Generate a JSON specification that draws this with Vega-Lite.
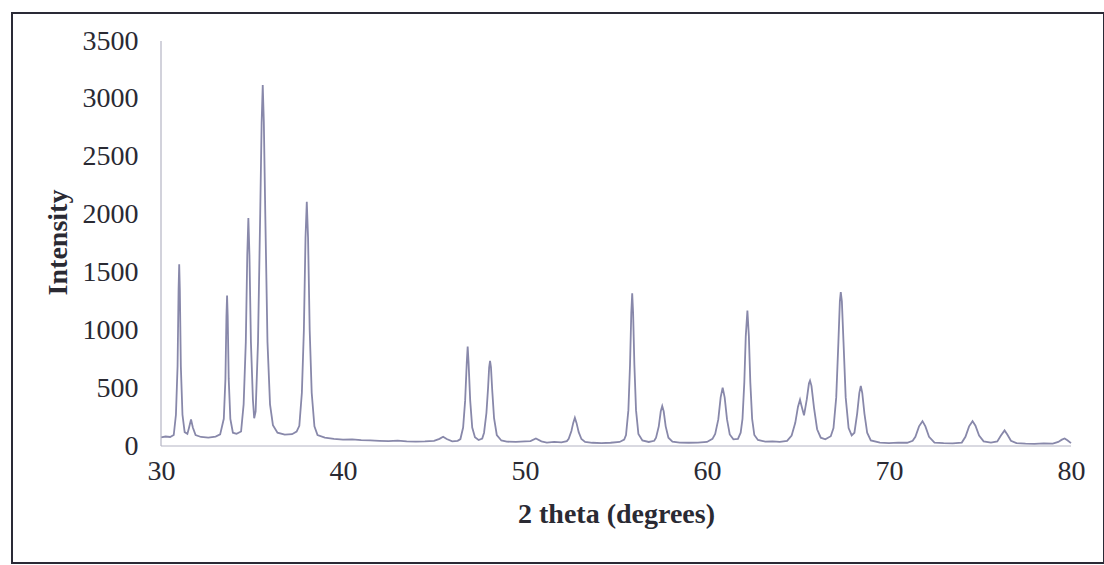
{
"$schema":"https://vega.github.io/schema/vega-lite/v6.json",
"width":1092,"height":550,
"autosize":{"type":"none"},
"padding":{"left":12,"top":13,"right":0,"bottom":2},
"background":"white",
"config":{"view":{"stroke":"#2a2a36","strokeWidth":2},"font":"Liberation Serif","axis":{"grid":false,"ticks":false,"domain":false,"labelColor":"#2a2a33","titleColor":"#2a2a33"}},
"datasets":{"xrd":[
{"t":30.0,"i":75},{"t":30.25,"i":82},{"t":30.5,"i":78},{"t":30.7,"i":95},{"t":30.82,"i":270},{"t":30.91,"i":690},{"t":30.965,"i":1350},{"t":31.0,"i":1570},{"t":31.035,"i":1350},{"t":31.09,"i":690},{"t":31.18,"i":270},{"t":31.3,"i":120},{"t":31.45,"i":105},{"t":31.55,"i":165},{"t":31.65,"i":230},{"t":31.75,"i":160},{"t":31.9,"i":95},{"t":32.2,"i":78},{"t":32.6,"i":72},{"t":33.0,"i":82},{"t":33.25,"i":100},{"t":33.45,"i":235},{"t":33.54,"i":580},{"t":33.595,"i":1120},{"t":33.63,"i":1300},{"t":33.665,"i":1120},{"t":33.72,"i":580},{"t":33.81,"i":235},{"t":33.95,"i":115},{"t":34.15,"i":105},{"t":34.4,"i":125},{"t":34.54,"i":360},{"t":34.66,"i":900},{"t":34.74,"i":1650},{"t":34.8,"i":1970},{"t":34.86,"i":1650},{"t":34.94,"i":900},{"t":35.05,"i":400},{"t":35.12,"i":240},{"t":35.2,"i":300},{"t":35.33,"i":900},{"t":35.45,"i":2000},{"t":35.53,"i":2800},{"t":35.59,"i":3120},{"t":35.65,"i":2800},{"t":35.73,"i":2000},{"t":35.85,"i":900},{"t":35.99,"i":360},{"t":36.15,"i":180},{"t":36.4,"i":115},{"t":36.8,"i":98},{"t":37.2,"i":102},{"t":37.45,"i":125},{"t":37.6,"i":175},{"t":37.74,"i":460},{"t":37.85,"i":1000},{"t":37.94,"i":1800},{"t":38.01,"i":2110},{"t":38.08,"i":1800},{"t":38.17,"i":1000},{"t":38.28,"i":460},{"t":38.43,"i":170},{"t":38.6,"i":95},{"t":39.0,"i":72},{"t":39.5,"i":62},{"t":40.0,"i":55},{"t":40.5,"i":58},{"t":41.0,"i":50},{"t":41.5,"i":48},{"t":42.0,"i":45},{"t":42.5,"i":42},{"t":43.0,"i":46},{"t":43.5,"i":40},{"t":44.0,"i":38},{"t":44.5,"i":40},{"t":45.0,"i":45},{"t":45.3,"i":62},{"t":45.5,"i":80},{"t":45.7,"i":60},{"t":46.0,"i":40},{"t":46.3,"i":45},{"t":46.45,"i":60},{"t":46.6,"i":160},{"t":46.71,"i":390},{"t":46.8,"i":720},{"t":46.85,"i":860},{"t":46.9,"i":720},{"t":46.99,"i":390},{"t":47.1,"i":160},{"t":47.25,"i":75},{"t":47.45,"i":52},{"t":47.65,"i":65},{"t":47.75,"i":115},{"t":47.88,"i":285},{"t":47.97,"i":500},{"t":48.03,"i":680},{"t":48.08,"i":735},{"t":48.13,"i":680},{"t":48.2,"i":480},{"t":48.3,"i":240},{"t":48.45,"i":95},{"t":48.7,"i":48},{"t":49.0,"i":38},{"t":49.5,"i":35},{"t":50.0,"i":40},{"t":50.3,"i":42},{"t":50.6,"i":65},{"t":50.9,"i":40},{"t":51.2,"i":30},{"t":51.6,"i":35},{"t":52.0,"i":32},{"t":52.3,"i":42},{"t":52.4,"i":62},{"t":52.55,"i":130},{"t":52.65,"i":200},{"t":52.74,"i":245},{"t":52.83,"i":200},{"t":52.95,"i":120},{"t":53.1,"i":60},{"t":53.3,"i":35},{"t":53.7,"i":28},{"t":54.2,"i":25},{"t":54.7,"i":28},{"t":55.2,"i":35},{"t":55.45,"i":55},{"t":55.55,"i":95},{"t":55.68,"i":310},{"t":55.77,"i":700},{"t":55.84,"i":1150},{"t":55.89,"i":1320},{"t":55.94,"i":1150},{"t":56.01,"i":700},{"t":56.1,"i":310},{"t":56.23,"i":105},{"t":56.45,"i":48},{"t":56.8,"i":35},{"t":57.1,"i":45},{"t":57.2,"i":72},{"t":57.35,"i":170},{"t":57.46,"i":300},{"t":57.54,"i":345},{"t":57.62,"i":300},{"t":57.73,"i":170},{"t":57.88,"i":72},{"t":58.1,"i":38},{"t":58.5,"i":30},{"t":59.0,"i":28},{"t":59.5,"i":30},{"t":60.0,"i":35},{"t":60.3,"i":62},{"t":60.45,"i":105},{"t":60.62,"i":230},{"t":60.75,"i":420},{"t":60.86,"i":505},{"t":60.97,"i":420},{"t":61.1,"i":230},{"t":61.25,"i":100},{"t":61.45,"i":58},{"t":61.7,"i":62},{"t":61.85,"i":115},{"t":61.95,"i":235},{"t":62.05,"i":550},{"t":62.13,"i":950},{"t":62.22,"i":1170},{"t":62.3,"i":950},{"t":62.38,"i":550},{"t":62.48,"i":235},{"t":62.6,"i":95},{"t":62.8,"i":52},{"t":63.2,"i":38},{"t":63.6,"i":40},{"t":64.0,"i":35},{"t":64.4,"i":45},{"t":64.65,"i":90},{"t":64.85,"i":200},{"t":65.0,"i":340},{"t":65.11,"i":400},{"t":65.22,"i":330},{"t":65.33,"i":265},{"t":65.48,"i":400},{"t":65.6,"i":540},{"t":65.66,"i":565},{"t":65.74,"i":520},{"t":65.88,"i":330},{"t":66.05,"i":145},{"t":66.25,"i":72},{"t":66.5,"i":58},{"t":66.8,"i":85},{"t":66.95,"i":155},{"t":67.1,"i":420},{"t":67.22,"i":900},{"t":67.3,"i":1250},{"t":67.35,"i":1330},{"t":67.41,"i":1250},{"t":67.5,"i":900},{"t":67.62,"i":420},{"t":67.78,"i":155},{"t":67.95,"i":92},{"t":68.1,"i":115},{"t":68.25,"i":280},{"t":68.37,"i":460},{"t":68.45,"i":520},{"t":68.53,"i":460},{"t":68.65,"i":280},{"t":68.8,"i":115},{"t":69.0,"i":48},{"t":69.5,"i":30},{"t":70.0,"i":25},{"t":70.5,"i":30},{"t":71.0,"i":28},{"t":71.3,"i":45},{"t":71.45,"i":80},{"t":71.65,"i":170},{"t":71.84,"i":215},{"t":72.0,"i":170},{"t":72.2,"i":80},{"t":72.5,"i":30},{"t":73.0,"i":25},{"t":73.5,"i":22},{"t":74.0,"i":30},{"t":74.2,"i":80},{"t":74.4,"i":170},{"t":74.59,"i":215},{"t":74.75,"i":175},{"t":74.95,"i":90},{"t":75.2,"i":40},{"t":75.6,"i":30},{"t":75.95,"i":40},{"t":76.15,"i":90},{"t":76.35,"i":135},{"t":76.5,"i":100},{"t":76.7,"i":45},{"t":77.0,"i":25},{"t":77.5,"i":20},{"t":78.0,"i":18},{"t":78.5,"i":22},{"t":79.0,"i":20},{"t":79.3,"i":35},{"t":79.5,"i":55},{"t":79.65,"i":65},{"t":79.8,"i":50},{"t":80.0,"i":25}
]},
"layer":[
{"data":{"name":"xrd"},
 "mark":{"type":"line","color":"#8888aa","strokeWidth":1.8},
 "encoding":{
  "x":{"field":"t","type":"quantitative","scale":{"domain":[21.813,81.813],"nice":false,"zero":false},
   "axis":{"values":[30,40,50,60,70,80],"offset":-117,"labelFontSize":28,"labelPadding":11,"labelFlush":false,"title":"2 theta (degrees)","titleFontSize":28,"titleFontWeight":"bold","titleX":604,"titlePadding":15}},
  "y":{"field":"i","type":"quantitative","scale":{"domain":[-1011,3742],"nice":false,"zero":false},
   "axis":{"values":[0,500,1000,1500,2000,2500,3000,3500],"format":"d","offset":-149,"labelFontSize":28,"labelPadding":23,"title":"Intensity","titleFontSize":28,"titleFontWeight":"bold","titleY":229,"titlePadding":10}}
 }},
{"data":{"values":[{}]},
 "mark":{"type":"rule","color":"#b4b4c4","strokeWidth":1.2},
 "encoding":{"x":{"datum":30,"type":"quantitative","scale":{"domain":[21.813,81.813],"nice":false,"zero":false}},"y":{"datum":0,"type":"quantitative","scale":{"domain":[-1011,3742],"nice":false,"zero":false}},"y2":{"datum":3500}}},
{"data":{"values":[{}]},
 "mark":{"type":"rule","color":"#b4b4c4","strokeWidth":1.2},
 "encoding":{"x":{"datum":30,"type":"quantitative","scale":{"domain":[21.813,81.813],"nice":false,"zero":false}},"x2":{"datum":80},"y":{"datum":0,"type":"quantitative","scale":{"domain":[-1011,3742],"nice":false,"zero":false}}}}
]
}
